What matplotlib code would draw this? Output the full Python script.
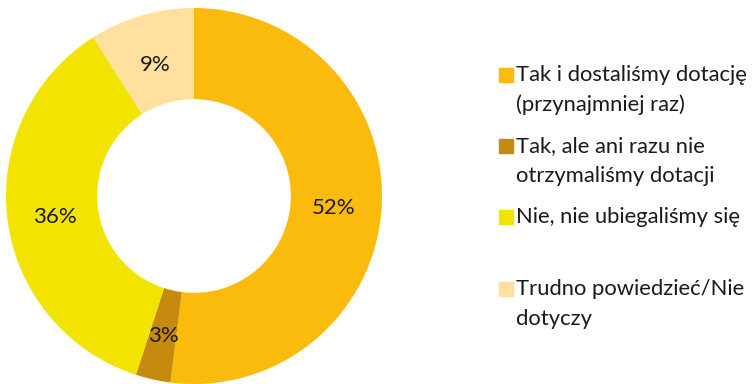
import matplotlib.pyplot as plt
from matplotlib.patches import Rectangle

# udział odpowiedzi (w %), kolejność zgodnie z ruchem wskazówek zegara od godziny 12
labels = [
    "Tak i dostaliśmy dotację\n(przynajmniej raz)",
    "Tak, ale ani razu nie\notrzymaliśmy dotacji",
    "Nie, nie ubiegaliśmy się",
    "Trudno powiedzieć/Nie\ndotyczy",
]
values = [52, 3, 36, 9]
colors = ["#FBBB0C", "#C68A0E", "#F2E300", "#FFE09E"]

plt.rcParams["font.family"] = ["Lato", "DejaVu Sans"]

fig = plt.figure(figsize=(7.53, 3.84), dpi=100)

# wykres pierścieniowy
ax = fig.add_axes([6 / 753, 0, 376 / 753, 376 / 384])
wedges, texts, autotexts = ax.pie(
    values,
    colors=colors,
    startangle=90,
    counterclock=False,
    radius=1.0,
    wedgeprops=dict(width=0.485, linewidth=0),
    autopct=lambda p: f"{p:.0f}%",
    pctdistance=0.745,
    textprops=dict(fontsize=16, color="#1a1a1a"),
)
# etykiety procentowe lekko poniżej środka wycinka
for t in autotexts:
    x, y = t.get_position()
    t.set_position((x, y - 0.018))
ax.set_xlim(-1, 1)
ax.set_ylim(-1, 1)
ax.set_aspect("equal")
ax.axis("off")

# legenda rysowana ręcznie (kwadrat + opis)
legend_y = [75, 146, 217, 289]
for lab, col, y in zip(labels, colors, legend_y):
    fig.patches.append(Rectangle((499 / 753, (384 - y - 7) / 384), 14 / 753, 14 / 384,
                                 transform=fig.transFigure, color=col, figure=fig))
    lines = lab.split("\n")
    for i, line in enumerate(lines):
        fig.text(516 / 753, (384 - y - 30 * i) / 384, line, fontsize=15.8,
                 color="#1a1a1a", va="center", ha="left")

fig.savefig("out.png", dpi=100)
